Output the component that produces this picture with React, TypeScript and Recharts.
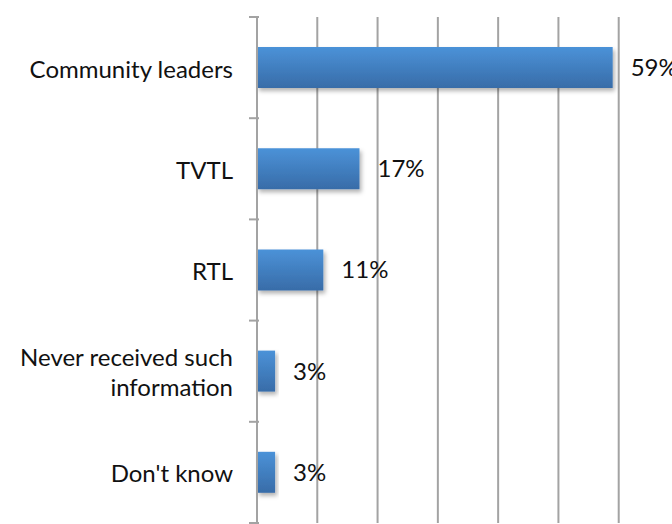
import { BarChart, Bar, XAxis, YAxis, CartesianGrid, LabelList } from "recharts";

const categories = [
  "Community leaders",
  "TVTL",
  "RTL",
  "Never received such information",
  "Don't know",
];
const shares = [59, 17, 11, 3, 3];
const xTicks = [0, 10, 20, 30, 40, 50, 60, 70];

const chartData = categories.map((name, i) => ({ name, value: shares[i] }));

const FONT = "Lato, 'Open Sans', sans-serif";
const GRID = "#a3a3a3";
const FS = 24;

// wrap long category names onto several lines
const wrap = (text: string, max: number) => {
  const lines: string[] = [];
  let cur = "";
  text.split(" ").forEach((w) => {
    if (cur && (cur + " " + w).length > max) {
      lines.push(cur);
      cur = w;
    } else {
      cur = cur ? cur + " " + w : w;
    }
  });
  if (cur) lines.push(cur);
  return lines;
};

// Excel-style category tick: label at band centre, tick mark at band edges
const CategoryTick = (props: any) => {
  const { x, y, payload, index, visibleTicksCount } = props;
  const half = payload?.offset || 50.6;
  const lines = wrap(String(payload.value), 20);
  const lh = 30;
  const start = y - ((lines.length - 1) * lh) / 2;
  const axisX = x + 10;
  return (
    <g>
      <line x1={axisX - 10} x2={axisX} y1={y - half} y2={y - half} stroke={GRID} strokeWidth={2} />
      {index === visibleTicksCount - 1 && (
        <line x1={axisX - 10} x2={axisX} y1={y + half} y2={y + half} stroke={GRID} strokeWidth={2} />
      )}
      <text
        x={axisX - 26}
        y={start}
        textAnchor="end"
        dominantBaseline="central"
        fontFamily={FONT}
        fontSize={FS}
        fill="#111"
      >
        {lines.map((l, i) => (
          <tspan key={i} x={axisX - 26} y={start + i * lh}>
            {l}
          </tspan>
        ))}
      </text>
    </g>
  );
};

const App = () => {
  return (
    <div
      style={{
        position: "fixed",
        left: 0,
        top: 0,
        width: 672,
        height: 524,
        overflow: "hidden",
        background: "#fff",
      }}
    >
      <BarChart
        width={679}
        height={524}
        data={chartData}
        layout="vertical"
        margin={{ top: 17, right: 0, bottom: 1, left: 0 }}
      >
        <defs>
          <linearGradient id="barFill" x1="0" y1="0" x2="0" y2="1">
            <stop offset="0%" stopColor="#4b92d8" />
            <stop offset="100%" stopColor="#386ca8" />
          </linearGradient>
          <filter id="barShadow" x="-10%" y="-20%" width="130%" height="160%">
            <feDropShadow dx="2" dy="3" stdDeviation="2" floodColor="#000" floodOpacity="0.3" />
          </filter>
        </defs>
        <CartesianGrid vertical horizontal={false} stroke={GRID} strokeWidth={2} />
        <XAxis
          type="number"
          domain={[0, 70]}
          ticks={xTicks}
          tick={() => <g />}
          tickLine={false}
          height={0}
          axisLine={{ stroke: GRID, strokeWidth: 2 }}
        />
        <YAxis
          type="category"
          dataKey="name"
          width={257}
          tick={<CategoryTick />}
          tickLine={false}
          axisLine={{ stroke: GRID, strokeWidth: 2 }}
          interval={0}
        />
        <Bar
          dataKey="value"
          barSize={41}
          fill="url(#barFill)"
          filter="url(#barShadow)"
          isAnimationActive={false}
        >
          <LabelList
            dataKey="value"
            position="right"
            offset={18}
            formatter={(v: any) => `${v}%`}
            style={{ fontFamily: FONT, fontSize: FS, fill: "#111" }}
          />
        </Bar>
      </BarChart>
    </div>
  );
};

export default App;
